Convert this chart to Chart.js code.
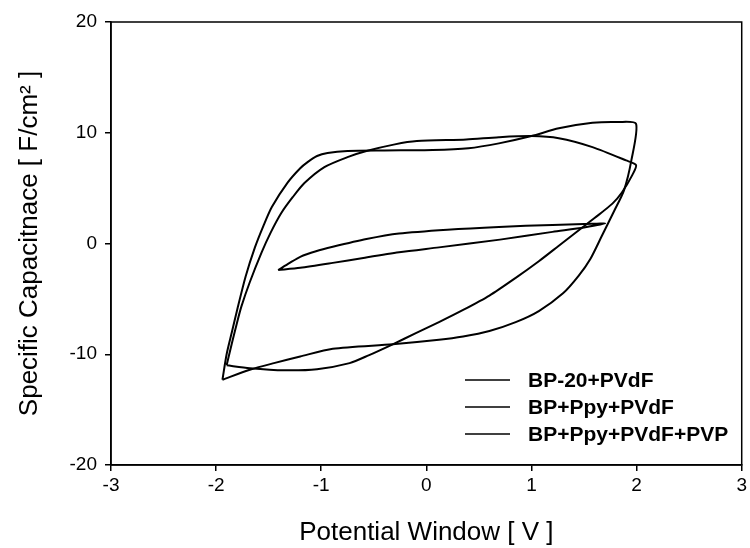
<!DOCTYPE html>
<html>
<head>
<meta charset="utf-8">
<script src="https://cdn.jsdelivr.net/npm/chart.js@4.4.0/dist/chart.umd.min.js"></script>
<style>
  html, body { margin: 0; padding: 0; background: #fff; }
</style>
</head>
<body>
<canvas id="cvChart" width="750" height="548"></canvas>
<script>
// series labels
const seriesNames = ['BP-20+PVdF', 'BP+Ppy+PVdF', 'BP+Ppy+PVdF+PVP'];

// BP-20+PVdF : small loop
const bp20X = [-1.41, -1.3, -1.2, -1.05, -0.89, -0.57, -0.26, 0.2, 0.69, 1.2, 1.5, 1.7,
               1.5, 1.2, 0.7, 0.12, -0.26, -0.6, -0.89, -1.2, -1.41];
const bp20Y = [-2.4, -1.75, -1.2, -0.7, -0.3, 0.4, 0.9, 1.25, 1.5, 1.68, 1.75, 1.8,
               1.45, 1.05, 0.35, -0.35, -0.8, -1.3, -1.75, -2.2, -2.4];

// BP+Ppy+PVdF : inner big loop
const ppyX = [-1.9, -1.85, -1.8, -1.76, -1.68, -1.57, -1.48, -1.38, -1.27, -1.16, -0.97, -0.75, -0.57,
              -0.3, -0.09, 0.38, 0.69, 1.0, 1.26, 1.58, 1.9, 1.995,
              1.96, 1.86, 1.77, 1.6, 1.45, 1.26, 1.07, 0.85, 0.6, 0.35, 0.12, -0.1, -0.32,
              -0.55, -0.73, -1.04, -1.35, -1.68, -1.9];
const ppyY = [-11.0, -9.0, -7.1, -5.7, -3.5, -0.87, 1.0, 2.75, 4.2, 5.46, 6.9, 7.8, 8.35,
              8.95, 9.25, 9.4, 9.6, 9.7, 9.5, 8.7, 7.5, 7.08,
              6.2, 4.6, 3.6, 2.3, 1.2, -0.2, -1.6, -3.1, -4.7, -6.0, -7.1, -8.1, -9.1,
              -10.1, -10.8, -11.35, -11.45, -11.26, -11.0];

// BP+Ppy+PVdF+PVP : outer big loop
const pvpX = [-1.94, -1.9, -1.85, -1.8, -1.72, -1.63, -1.55, -1.47, -1.32, -1.2, -1.13, -1.04, -0.94,
              -0.75, -0.4, 0.06, 0.4, 0.69, 1.0, 1.26, 1.58, 1.83, 1.995,
              1.95, 1.88, 1.79, 1.67, 1.56, 1.45, 1.3, 1.07, 0.85, 0.6, 0.35, 0.12, -0.32,
              -0.89, -1.2, -1.45, -1.68, -1.94];
const pvpY = [-12.3, -10.0, -8.0, -6.0, -3.0, -0.33, 1.6, 3.3, 5.5, 6.8, 7.35, 7.9, 8.17,
              8.35, 8.4, 8.44, 8.6, 9.04, 9.7, 10.4, 10.9, 10.97, 10.8,
              7.5, 4.8, 3.0, 0.7, -1.4, -2.9, -4.5, -6.1, -7.1, -7.9, -8.4, -8.7, -9.1,
              -9.5, -10.2, -10.8, -11.4, -12.3];

// axis ticks
const xTicks = [-3, -2, -1, 0, 1, 2, 3];
const yTicks = [-20, -10, 0, 10, 20];

const toPoints = (xs, ys) => xs.map((x, i) => ({ x: x, y: ys[i] }));

const FONT = "'Liberation Sans', Arial, sans-serif";

// frame round the plot area
const framePlugin = {
    id: 'frame',
    afterDraw(chart) {
        const a = chart.chartArea;
        const ctx = chart.ctx;
        ctx.save();
        ctx.strokeStyle = '#000';
        ctx.lineWidth = 1.5;
        ctx.strokeRect(a.left, a.top, a.right - a.left, a.bottom - a.top);
        ctx.restore();
    }
};

// legend inside the plot, lower right
const insideLegend = {
    id: 'insideLegend',
    afterDraw(chart) {
        const a = chart.chartArea;
        const ctx = chart.ctx;
        const x0 = a.left + 354;
        const y0 = a.top + 358;
        ctx.save();
        ctx.font = 'bold 21px ' + FONT;
        ctx.textBaseline = 'middle';
        ctx.fillStyle = '#000';
        chart.data.datasets.forEach((ds, i) => {
            const y = y0 + i * 27;
            ctx.strokeStyle = ds.borderColor;
            ctx.lineWidth = 1.5;
            ctx.beginPath();
            ctx.moveTo(x0, y);
            ctx.lineTo(x0 + 45, y);
            ctx.stroke();
            ctx.fillText(ds.label, x0 + 63, y + 1);
        });
        ctx.restore();
    }
};

const mkSet = (label, xs, ys) => ({
    label: label,
    data: toPoints(xs, ys),
    showLine: true,
    borderColor: '#000',
    borderWidth: 2,
    pointRadius: 0,
    tension: 0.25,
    fill: false
});

new Chart(document.getElementById('cvChart'), {
    type: 'scatter',
    data: {
        datasets: [
            mkSet(seriesNames[0], bp20X, bp20Y),
            mkSet(seriesNames[1], ppyX, ppyY),
            mkSet(seriesNames[2], pvpX, pvpY)
        ]
    },
    options: {
        responsive: false,
        animation: false,
        layout: { padding: { top: 22, right: 7, left: 0, bottom: 0 } },
        plugins: {
            legend: { display: false },
            tooltip: { enabled: false }
        },
        scales: {
            x: {
                type: 'linear',
                min: xTicks[0],
                max: xTicks[xTicks.length - 1],
                afterBuildTicks: s => { s.ticks = xTicks.map(v => ({ value: v })); },
                afterFit: s => { s.height = 83; },
                ticks: { color: '#000', font: { family: FONT, size: 19 }, padding: 3, maxRotation: 0 },
                grid: { drawOnChartArea: false, drawTicks: true, tickLength: 6, color: '#000', lineWidth: 1.5 },
                border: { color: '#000', width: 1.5 },
                title: {
                    display: true,
                    text: 'Potential Window [ V ]',
                    color: '#000',
                    font: { family: FONT, size: 26 },
                    padding: { top: 0, bottom: 0 }
                }
            },
            y: {
                type: 'linear',
                min: yTicks[0],
                max: yTicks[yTicks.length - 1],
                afterBuildTicks: s => { s.ticks = yTicks.map(v => ({ value: v })); },
                afterFit: s => { s.width = 111; },
                ticks: { color: '#000', font: { family: FONT, size: 19 }, padding: 8 },
                grid: { drawOnChartArea: false, drawTicks: true, tickLength: 6, color: '#000', lineWidth: 1.5 },
                border: { color: '#000', width: 1.5 },
                title: {
                    display: true,
                    text: 'Specific Capacitnace [ F/cm\u00B2 ]',
                    color: '#000',
                    font: { family: FONT, size: 26 },
                    padding: { top: 14, bottom: 0 }
                }
            }
        }
    },
    plugins: [framePlugin, insideLegend]
});
</script>
</body>
</html>
